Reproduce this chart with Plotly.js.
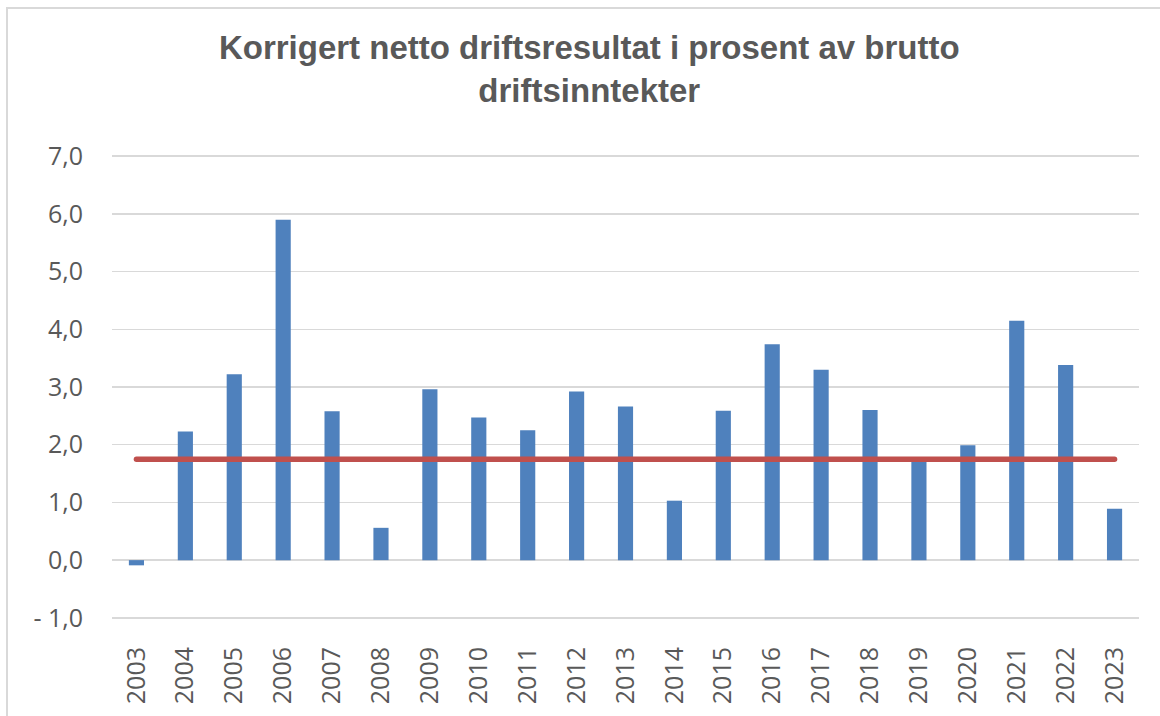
<!DOCTYPE html>
<html>
<head>
<meta charset="utf-8">
<script src="https://cdn.plot.ly/plotly-3.0.1.min.js"></script>
<style>
  html, body { margin: 0; padding: 0; background: #fff; }
  #wrap { position: relative; width: 1160px; height: 716px; overflow: hidden; }
  #chart { position: absolute; left: 0; top: 0; width: 1160px; height: 716px; }
  #frame { position: absolute; left: 6px; top: 7px; width: 1200px; height: 800px;
           border-left: 2px solid #D9D9D9; border-top: 2px solid #D9D9D9; pointer-events: none; }
  .scatterlayer path.js-line { stroke-linecap: round; }
</style>
</head>
<body>
<div id="wrap">
  <div id="chart"></div>
  <div id="frame"></div>
</div>
<script>
const years = ["2003","2004","2005","2006","2007","2008","2009","2010","2011","2012","2013","2014","2015","2016","2017","2018","2019","2020","2021","2022","2023"];
const resultPct = [-0.09, 2.23, 3.22, 5.90, 2.58, 0.56, 2.96, 2.47, 2.25, 2.92, 2.66, 1.03, 2.59, 3.74, 3.30, 2.60, 1.74, 1.99, 4.15, 3.38, 0.89];
const targetPct = [1.75, 1.75, 1.75, 1.75, 1.75, 1.75, 1.75, 1.75, 1.75, 1.75, 1.75, 1.75, 1.75, 1.75, 1.75, 1.75, 1.75, 1.75, 1.75, 1.75, 1.75];
const yTickVals = [-1, 0, 1, 2, 3, 4, 5, 6, 7];
const yTickText = ["- 1,0", "0,0", "1,0", "2,0", "3,0", "4,0", "5,0", "6,0", "7,0"];
const titleText = "Korrigert netto driftsresultat i prosent av brutto<br>driftsinntekter";

const tickFont = { family: "Open Sans, Liberation Sans, sans-serif", size: 25, color: "#595959" };

const traces = [
  {
    type: "bar",
    x: years,
    y: resultPct,
    marker: { color: "#4F81BD", line: { width: 0 } },
    hoverinfo: "x+y"
  },
  {
    type: "scatter",
    mode: "lines",
    x: years,
    y: targetPct,
    line: { color: "#C0504D", width: 5.5 },
    hoverinfo: "y"
  }
];

const layout = {
  width: 1160,
  height: 716,
  margin: { l: 112, r: 21, t: 155, b: 97, pad: 0 },
  paper_bgcolor: "#ffffff",
  plot_bgcolor: "#ffffff",
  showlegend: false,
  bargap: 0.69,
  title: {
    text: titleText,
    font: { family: "Liberation Sans Narrow, Arial Narrow, sans-serif", size: 33, color: "#595959", weight: "bold" },
    xref: "container",
    x: 0.508,
    xanchor: "center",
    yref: "container",
    y: 0.918,
    yanchor: "top"
  },
  xaxis: {
    type: "category",
    tickangle: -90,
    tickfont: tickFont,
    showgrid: false,
    showline: false,
    zeroline: false,
    ticks: "",
    ticklabelstandoff: 22,
    fixedrange: true
  },
  yaxis: {
    range: [-1.02, 7.02],
    tickvals: yTickVals,
    ticktext: yTickText,
    tickfont: tickFont,
    showgrid: true,
    gridcolor: "#D9D9D9",
    gridwidth: 1.5,
    zeroline: true,
    zerolinecolor: "#D9D9D9",
    zerolinewidth: 1.5,
    showline: false,
    ticks: "",
    ticklabelstandoff: 28,
    fixedrange: true
  }
};

Plotly.newPlot("chart", traces, layout, { displayModeBar: false, staticPlot: true });
</script>
</body>
</html>
